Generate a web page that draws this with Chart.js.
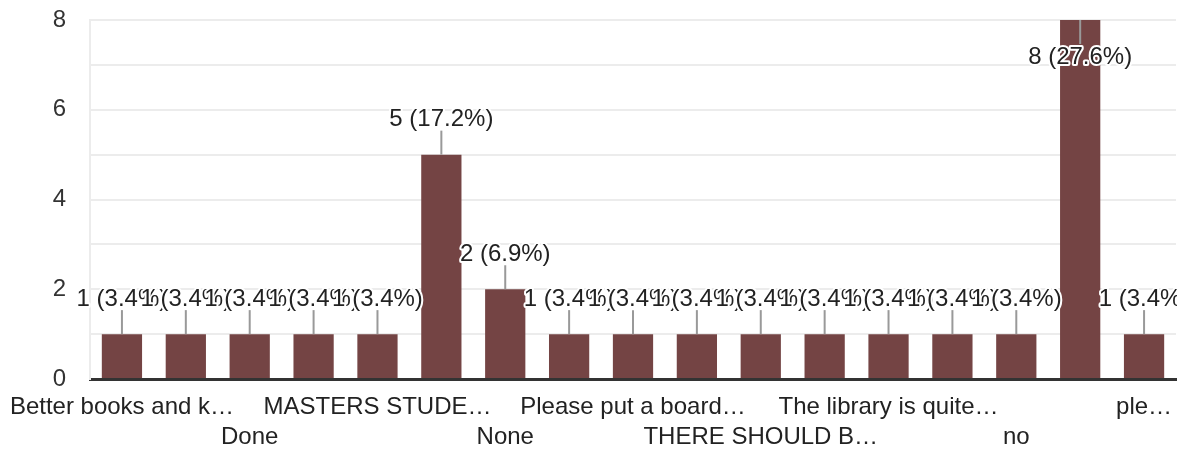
<!DOCTYPE html>
<html>
<head>
<meta charset="utf-8">
<script src="https://cdn.jsdelivr.net/npm/chart.js@4/dist/chart.umd.min.js"></script>
<style>
  html, body { margin: 0; padding: 0; background: #fff; }
  #wrap { width: 1184px; height: 452px; position: relative; }
</style>
</head>
<body>
<div id="wrap"><canvas id="myChart"></canvas></div>
<script>
'use strict'
// answers, in the order the form lists them (only every other one is labelled on the axis)
var categories = ['Better books and k…', 'Could be better', 'Done', 'Good', 'MASTERS STUDE…', 'NA', 'None', 'Nothing',
  'Please put a board…', 'Provide more…', 'THERE SHOULD B…', 'Thanks', 'The library is quite…', 'Wifi', 'no', 'nothing', 'ple…'];
var counts = [1, 1, 1, 1, 1, 5, 2, 1, 1, 1, 1, 1, 1, 1, 1, 8, 1];
var yTicks = [0, 2, 4, 6, 8];

var total = counts.reduce(function (a, b) { return a + b; }, 0);
var barColor = '#744444';
var fontName = '"Liberation Sans", Arial, sans-serif';

// draws "n (p%)" above each bar with a little grey leader line
var annotations = {
  id: 'annotations',
  afterDatasetsDraw: function (chart) {
    var ctx = chart.ctx;
    var area = chart.chartArea;
    var bars = chart.getDatasetMeta(0).data;
    ctx.save();
    ctx.beginPath();
    ctx.rect(0, 0, area.right + 1, chart.height);
    ctx.clip();
    ctx.font = '24px ' + fontName;
    ctx.textAlign = 'center';
    ctx.textBaseline = 'middle';
    for (var i = 0; i < bars.length; i++) {
      var bar = bars[i];
      var top = bar.y;
      var text = counts[i] + ' (' + (counts[i] / total * 100).toFixed(1) + '%)';
      var lineFrom, lineTo, textY;
      if (top - 48 < area.top) {
        lineFrom = top; lineTo = top + 24; textY = top + 37;
      } else {
        lineFrom = top - 24; lineTo = top; textY = top - 35;
      }
      ctx.strokeStyle = '#999999';
      ctx.lineWidth = 2;
      ctx.beginPath();
      ctx.moveTo(bar.x, lineFrom);
      ctx.lineTo(bar.x, lineTo);
      ctx.stroke();

      ctx.lineJoin = 'round';
      ctx.strokeStyle = '#ffffff';
      ctx.lineWidth = 4;
      ctx.strokeText(text, bar.x, textY);
      ctx.fillStyle = '#222222';
      ctx.fillText(text, bar.x, textY);
    }
    ctx.restore();
  }
};

var ctx = document.getElementById('myChart').getContext('2d');
var chart = new Chart(ctx, {
  type: 'bar',
  data: {
    labels: categories,
    datasets: [{
      data: counts,
      backgroundColor: barColor,
      barPercentage: 0.63,
      categoryPercentage: 1
    }]
  },
  options: {
    responsive: true,
    maintainAspectRatio: false,
    animation: false,
    layout: { padding: { top: 20, right: 8, left: 0, bottom: 0 } },
    plugins: {
      legend: { display: false },
      tooltip: { enabled: false }
    },
    scales: {
      x: {
        grid: { display: false, drawTicks: false },
        border: { color: '#333333', width: 3 },
        ticks: {
          autoSkip: false,
          maxRotation: 0,
          minRotation: 0,
          padding: 13,
          color: '#222222',
          font: { family: fontName, size: 24, lineHeight: 1.25 },
          callback: function (value, index) {
            if (index % 2 === 1) return '';
            var label = categories[index];
            return index % 4 === 0 ? [label, ''] : ['', label];
          }
        },
        afterFit: function (scale) {
          scale.height = 73;
          scale.paddingLeft = 0;
          scale.paddingRight = 0;
        }
      },
      y: {
        min: 0,
        max: yTicks[yTicks.length - 1],
        grid: { color: '#ececec', lineWidth: 2, drawTicks: false },
        border: { color: '#ececec', width: 2 },
        ticks: {
          stepSize: 1,
          padding: 24,
          color: '#333333',
          font: { family: fontName, size: 24 },
          callback: function (value) { return yTicks.includes(value) ? value : ''; }
        },
        afterFit: function (scale) {
          scale.width = 90;
          scale.paddingTop = 0;
          scale.paddingBottom = 0;
        }
      }
    }
  },
  plugins: [annotations]
});
</script>
</body>
</html>
